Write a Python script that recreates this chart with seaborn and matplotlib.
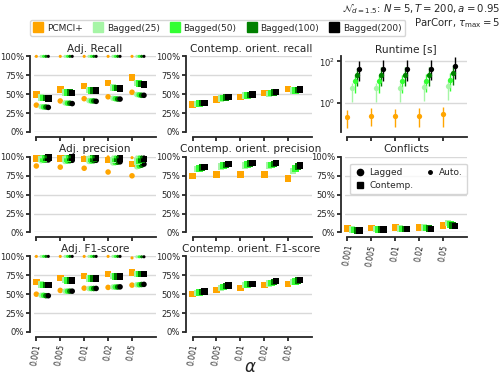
import numpy as np
import pandas as pd
import matplotlib
matplotlib.use("Agg")
import matplotlib.pyplot as plt
import seaborn as sns
from matplotlib.lines import Line2D
from matplotlib.ticker import PercentFormatter

alphas = ["0.001", "0.005", "0.01", "0.02", "0.05"]
methods = ["PCMCI+", "Bagged(25)", "Bagged(50)", "Bagged(100)", "Bagged(200)"]
colors = ["orange", "#a6f5a6", "#33ff33", "#008000", "black"]
offsets = [0.0, 0.2, 0.3, 0.4, 0.5]

# values in %, one row per method, one column per alpha
adj_recall_lag = [
    [35.5, 41, 44, 46.5, 52.5],
    [33.5, 38.5, 41.5, 44.5, 49.5],
    [33, 38, 41, 44, 49],
    [33, 38, 41, 43.5, 48.5],
    [32.5, 37.5, 40.5, 43.5, 48.5],
]
adj_recall_con = [
    [49.5, 56, 60.5, 65, 72],
    [45.5, 52.5, 55.5, 58.5, 65],
    [45, 52, 55, 58, 64],
    [45, 52, 55, 58, 63.5],
    [44.5, 51.5, 54.5, 57.5, 63],
]
adj_recall_auto = [
    [100, 100, 100, 100, 100],
    [100, 100, 100, 100, 100],
    [100, 100, 100, 100, 100],
    [100, 100, 100, 100, 100],
    [100, 100, 100, 100, 100],
]

orient_recall = [
    [36.5, 42.7, 46.3, 51.5, 56.8],
    [37, 44.5, 48, 50.5, 55],
    [37.5, 45, 48.5, 51.5, 55],
    [38, 45.8, 49, 52.5, 55.5],
    [38.3, 46.3, 49.3, 53, 56],
]

adj_prec_lag = [
    [88, 86.5, 85, 80, 75],
    [95, 94, 94, 92, 87],
    [95.5, 94.5, 94.5, 92.5, 88],
    [96, 95, 95, 93, 89],
    [96, 95.5, 95.5, 93.5, 90.5],
]
adj_prec_con = [
    [98, 98, 97.5, 96, 90.5],
    [97, 97, 97, 96, 94],
    [98, 98, 97.5, 97, 95.5],
    [98.5, 98.5, 98, 97.5, 96.5],
    [99, 99, 98.5, 98, 97.5],
]
adj_prec_auto = [
    [100, 100, 100, 100, 99],
    [100, 100, 100, 100, 100],
    [100, 100, 100, 100, 100],
    [100, 100, 100, 100, 100],
    [100, 100, 100, 100, 100],
]

orient_prec = [
    [74.6, 77, 76.8, 76.8, 71.5],
    [83.8, 87, 88.6, 88.3, 81.6],
    [85, 88.5, 90, 89.5, 85],
    [86, 89.5, 91, 90.8, 87],
    [86.8, 90.4, 91.7, 91.7, 88.6],
]

conflicts = [
    [5, 5.8, 6.7, 6.3, 9],
    [3.8, 4.5, 5, 6.7, 12.5],
    [3.3, 4.2, 4.8, 6, 10.4],
    [2.8, 4, 4.6, 5.5, 9.2],
    [2.5, 3.8, 4.5, 4.6, 8.3],
]

adj_f1_lag = [
    [50, 55, 58, 59, 62],
    [48.5, 54, 57.5, 59.5, 62.5],
    [48.5, 54, 57.5, 59.5, 62.5],
    [48, 54, 57.5, 59.5, 62.8],
    [48, 54, 57.6, 59.7, 63],
]
adj_f1_con = [
    [66, 71.5, 74, 77, 79],
    [62.5, 68.5, 71, 74, 77],
    [62, 68.4, 70.6, 73.6, 76.6],
    [62, 68.4, 70.6, 73.6, 76.6],
    [62, 68.4, 70.6, 73.6, 76.6],
]
adj_f1_auto = [
    [100, 100, 100, 100, 98],
    [100, 100, 100, 100, 99.5],
    [100, 100, 100, 100, 99.5],
    [100, 100, 100, 100, 99.5],
    [100, 100, 100, 100, 99.5],
]

orient_f1 = [
    [50, 55.5, 58.5, 62, 63.8],
    [51.5, 58.5, 62, 64, 66],
    [52.3, 59.5, 62.8, 65, 67],
    [53, 60.8, 63.5, 66.2, 68],
    [53.3, 61.6, 63.8, 67.2, 68.6],
]

# runtime in seconds: mean, lower and upper end of the bar
runtime_mean = [
    [0.21, 0.23, 0.22, 0.23, 0.29],
    [5.2, 5.4, 5.3, 5.5, 6.5],
    [11, 11, 11, 11.5, 13],
    [21, 22, 22, 23, 27],
    [41, 42, 43, 45, 59],
]
runtime_low = [
    [0.06, 0.075, 0.07, 0.07, 0.068],
    [1.1, 1.1, 1.1, 1.2, 1.3],
    [3.1, 3.0, 3.0, 3.2, 3.5],
    [6.3, 6.5, 6.5, 6.8, 7.5],
    [11, 11, 11.5, 12, 14],
]
runtime_high = [
    [0.46, 0.57, 0.5, 0.55, 0.63],
    [9.4, 9.5, 9.5, 10, 12],
    [23, 23, 23, 24, 28],
    [50, 52, 52, 55, 65],
    [105, 110, 110, 115, 160],
]

MARKERS = {"lag": ("o", 16), "con": ("s", 22), "auto": ("o", 5)}

sns.set_style("ticks")
plt.rcParams.update({
    "axes.linewidth": 1.3,
    "xtick.major.width": 1.3,
    "ytick.major.width": 1.3,
    "xtick.major.size": 3,
    "ytick.major.size": 3,
    "xtick.labelsize": 5.5,
    "ytick.labelsize": 6.1,
    "xtick.major.pad": 1.5,
    "ytick.major.pad": 1.2,
})
plt.rcParams["font.family"] = ["DejaVu Sans"]


def style_axis(ax, title, xlabels=False, log=False):
    ax.set_xlim(-0.1, 5.0)
    ax.set_xticks(range(len(alphas)))
    if xlabels:
        ax.set_xticklabels(alphas)
        ax.tick_params(axis="x", labelrotation=80, labelsize=5.5)
    else:
        ax.set_xticklabels([])
    ax.set_xlabel("")
    ax.set_ylabel("")
    ax.set_title(title, fontsize=7.6, pad=3.2)
    for side in ["top", "right"]:
        ax.spines[side].set_visible(False)
    ax.spines["left"].set_position(("outward", 3))
    ax.spines["bottom"].set_position(("outward", 3.6))
    ax.spines["bottom"].set_bounds(0, 5.0)
    ax.yaxis.grid(True, color="#d9d9d9", lw=1)
    ax.set_axisbelow(True)
    if not log:
        ax.set_ylim(0, 1)
        ax.set_yticks([0, 0.25, 0.5, 0.75, 1.0])
        ax.yaxis.set_major_formatter(PercentFormatter(1.0, decimals=0))
        ax.spines["left"].set_bounds(0, 1)


def plot_metric(ax, series):
    for kind, vals in series:
        marker, size = MARKERS[kind]
        for m in range(len(methods)):
            df = pd.DataFrame({
                "x": np.arange(len(alphas)) + offsets[m],
                "y": np.array(vals[m]) / 100.0,
            })
            sns.scatterplot(
                data=df, x="x", y="y", ax=ax,
                color=colors[m], marker=marker, s=size,
                edgecolor="none", linewidth=0, clip_on=False,
                legend=False, zorder=3
            )


fig = plt.figure(figsize=(5.03, 3.77), dpi=100)

lefts = [0.0675, 0.378, 0.686]
bottoms = [0.650, 0.3833, 0.1194]
w, h = 0.2425, 0.2005

ax_rec = fig.add_axes([lefts[0], bottoms[0], w, h])
ax_orec = fig.add_axes([lefts[1], bottoms[0], w, h])
ax_run = fig.add_axes([lefts[2], bottoms[0], w, h])
ax_prec = fig.add_axes([lefts[0], bottoms[1], w, h])
ax_oprec = fig.add_axes([lefts[1], bottoms[1], w, h])
ax_conf = fig.add_axes([lefts[2], bottoms[1], w, h])
ax_f1 = fig.add_axes([lefts[0], bottoms[2], w, h])
ax_of1 = fig.add_axes([lefts[1], bottoms[2], w, h])

plot_metric(ax_rec, [("lag", adj_recall_lag), ("con", adj_recall_con),
                     ("auto", adj_recall_auto)])
style_axis(ax_rec, "Adj. Recall")

plot_metric(ax_orec, [("con", orient_recall)])
style_axis(ax_orec, "Contemp. orient. recall")

plot_metric(ax_prec, [("lag", adj_prec_lag), ("con", adj_prec_con),
                      ("auto", adj_prec_auto)])
style_axis(ax_prec, "Adj. precision")

plot_metric(ax_oprec, [("con", orient_prec)])
style_axis(ax_oprec, "Contemp. orient. precision")

plot_metric(ax_conf, [("con", conflicts)])
style_axis(ax_conf, "Conflicts", xlabels=True)

plot_metric(ax_f1, [("lag", adj_f1_lag), ("con", adj_f1_con),
                    ("auto", adj_f1_auto)])
style_axis(ax_f1, "Adj. F1-score", xlabels=True)

plot_metric(ax_of1, [("con", orient_f1)])
style_axis(ax_of1, "Contemp. orient. F1-score", xlabels=True)

# runtime, log scale with error bars
for m in range(len(methods)):
    mean = np.array(runtime_mean[m])
    yerr = [mean - np.array(runtime_low[m]), np.array(runtime_high[m]) - mean]
    ax_run.errorbar(
        np.arange(len(alphas)) + offsets[m], mean, yerr=yerr,
        fmt="o", ms=3.8, color=colors[m], ecolor=colors[m],
        elinewidth=1, capsize=1.2, capthick=1.2, mew=0, zorder=3
    )
ax_run.set_yscale("log")
ax_run.set_ylim(0.039, 174)
ax_run.set_yticks([1, 100])
ax_run.set_yticklabels([r"$10^0$", r"$10^2$"])
ax_run.minorticks_off()
style_axis(ax_run, "Runtime [s]", log=True)

# legend for the marker kinds
kind_handles = [
    Line2D([], [], ls="", marker="o", color="black", ms=4.5, label="Lagged"),
    Line2D([], [], ls="", marker="s", color="black", ms=4.5, label="Contemp."),
    Line2D([], [], ls="", marker="o", color="black", ms=2.5, label="Auto."),
]
ax_conf.legend(handles=kind_handles, ncol=2, loc="upper center",
               bbox_to_anchor=(0.52, 0.97), fontsize=6.5, handletextpad=0.4,
               columnspacing=1.2, borderpad=0.5, labelspacing=0.4,
               handlelength=1.2)

# legend for methods
method_handles = [
    Line2D([], [], ls="", marker="s", color=c, ms=7, label=lab)
    for c, lab in zip(colors, methods)
]
fig.legend(handles=method_handles, ncol=5, loc="upper left",
           bbox_to_anchor=(30 / 503, 1 - 20 / 377), fontsize=6.5,
           handlelength=1.0, handletextpad=0.5, columnspacing=1.15,
           borderpad=0.4, borderaxespad=0)

fig.text(0.995, 1 - 2 / 377,
         "$\\mathcal{N}_{d=1.5}$: $N=5, T=200, a=0.95$",
         ha="right", va="top", fontsize=7.3)
fig.text(0.995, 1 - 16 / 377,
         "ParCorr, $\\tau_{\\max}=5$",
         ha="right", va="top", fontsize=7.3)
fig.text(250 / 503, 1 - 367 / 377, r"$\alpha$", fontsize=12,
         ha="center", va="center")

fig.savefig("out.png", dpi=100)
